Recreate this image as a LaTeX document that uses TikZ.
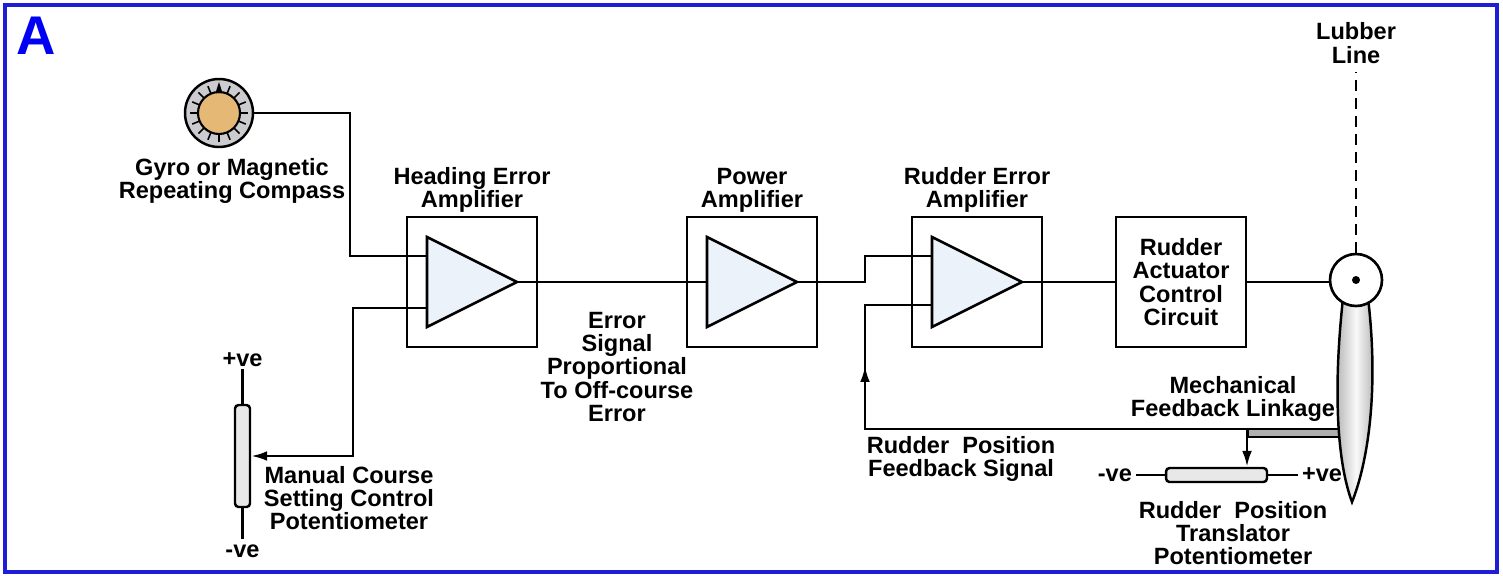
\documentclass[tikz,border=0pt]{standalone}
\usepackage{fontspec}
\setmainfont{Liberation Sans}
\usetikzlibrary{arrows.meta,positioning,decorations.markings}

\definecolor{frameblue}{RGB}{30,30,215}
\definecolor{letterblue}{RGB}{0,0,245}
\definecolor{dialtan}{RGB}{229,184,118}
\definecolor{dialgray}{RGB}{204,204,208}
\definecolor{ampfill}{RGB}{236,242,250}
\definecolor{potfill}{RGB}{232,232,232}
\definecolor{linkgray}{RGB}{175,175,175}

\tikzset{
  wire/.style={line width=1.4pt},
  blockbox/.style={draw, line width=1.6pt, minimum width=2.6cm, minimum height=2.6cm, inner sep=0pt},
  amptri/.style={draw, line width=1.5pt, fill=ampfill},
  lbl/.style={font=\bfseries\fontsize{13.4}{13.2}\selectfont, align=center, inner sep=0pt},
  vetxt/.style={lbl, inner sep=1pt},
  potbox/.style={draw, line width=1.4pt, fill=potfill, rounded corners=2pt, inner sep=0pt},
  arrowend/.style={-{Latex[length=9pt,width=5.5pt]}},
}

\begin{document}
\begin{tikzpicture}[x=0.02cm, y=-0.02cm]
  \useasboundingbox (0,0) rectangle (1503,575);
  \draw[frameblue, line width=1.8pt] (5,5) rectangle (1497,572);
  \node[font=\bfseries\fontsize{31}{31}\selectfont, text=letterblue, inner sep=0pt] (panel) at (36,36) {A};

  % compass dial
  \node[circle, draw, line width=1.4pt, fill=dialgray, minimum size=1.36cm] (compass) at (219,113) {};
  \node[circle, draw, line width=1.2pt, fill=dialtan, minimum size=0.84cm] (dial) at (219,113) {};
  \begin{scope}[shift={(219,113)}]
    \foreach \a in {0,22.5,...,337.5}{
      \ifdim\a pt=270pt\else
        \draw[line width=0.9pt] (\a:21) -- (\a:29);
      \fi
    }
    \fill (-3.5,-20) -- (0,-31) -- (3.5,-20) -- cycle;
  \end{scope}

  % amplifier blocks
  \foreach \n/\cx in {hea/472, pow/752, rud/977}{
    \node[blockbox] (\n) at (\cx,282) {};
    \draw[amptri] (\cx-45,237) -- (\cx+45,282) -- (\cx-45,327) -- cycle;
    \coordinate (\n-out) at (\cx+45,282);
  }
  \coordinate (hea-in1) at (427,256);
  \coordinate (hea-in2) at (427,308);
  \coordinate (pow-in) at (707,282);
  \coordinate (rud-in1) at (932,256);
  \coordinate (rud-in2) at (932,305);

  \node[blockbox, lbl] (act) at (1181,282) {Rudder\\Actuator\\Control\\Circuit};

  % potentiometers
  \node[potbox, minimum width=0.3cm, minimum height=2.04cm] (manpot) at (242.5,456) {};
  \draw[wire] (manpot.north) -- ++(0,-35) coordinate (mantop);
  \draw[wire] (manpot.south) -- ++(0,31) coordinate (manbot);
  \node[vetxt, above=0pt of mantop] (manplus) {+ve};
  \node[vetxt, below=2pt of manbot] (manminus) {-ve};

  \node[potbox, minimum width=2.02cm, minimum height=0.28cm] (rpot) at (1216.5,475) {};
  \draw[wire] (rpot.west) -- ++(-29,0) coordinate (rpotl);
  \draw[wire] (rpot.east) -- ++(30,0) coordinate (rpotr);
  \node[vetxt, left=1pt of rpotl] (rminus) {-ve};
  \node[vetxt, right=1pt of rpotr] (rplus) {+ve};

  % rudder with linkage
  \draw[line width=1.2pt, fill=linkgray] (1248,429) rectangle (1341,437);
  \draw[line width=1.4pt, left color=gray!65, right color=gray!70, middle color=gray!5]
    (1343,298) .. controls (1333,390) and (1337,462) .. (1352,502)
    .. controls (1368,462) and (1379,390) .. (1368,298) -- cycle;
  \node[circle, draw, line width=1.5pt, fill=white, minimum size=1.04cm, inner sep=0pt] (helm) at (1356,280) {};
  \fill (helm) circle (0.08cm);
  \draw[wire, dash pattern=on 0.22cm off 0.14cm] (helm.north) -- ++(0,-181) coordinate (lubtop);

  % signal wiring
  \coordinate (cjog) at (350,256);
  \coordinate (pjog) at (353,308);
  \coordinate (rjog) at (865,256);
  \coordinate (fjog) at (865,429);
  \coordinate (fbk) at (1247,429);
  \draw[wire] (compass.east) -| (cjog) -- (hea-in1);
  \draw[wire, arrowend] (hea-in2) -- (pjog) |- (manpot.east);
  \draw[wire] (hea-out) -- (pow-in);
  \draw[wire] (pow-out) -| (rjog) -- (rud-in1);
  \draw[wire] (rud-out) -- (act);
  \draw[wire] (act.east) -- (act.east -| helm.west);
  \draw[wire, postaction={decorate}, decoration={markings,
      mark=at position 8.9cm with {\arrow{Latex[length=9pt,width=5.5pt]}}}]
    (fbk) -- (fjog) |- (rud-in2);
  \draw[wire, arrowend] (fbk) -- (fbk |- rpot.north);

  % labels
  \node[lbl] (gyrolbl) at (232,181) {Gyro or Magnetic\\Repeating Compass};
  \node[lbl] (healbl) at (472,190) {Heading Error\\Amplifier};
  \node[lbl] (powlbl) at (752,190) {Power\\Amplifier};
  \node[lbl] (rudlbl) at (977,190) {Rudder Error\\Amplifier};
  \node[lbl] (errlbl) at (617,367) {Error\\Signal\\Proportional\\To Off-course\\Error};
  \node[lbl] (manlbl) at (349,498) {Manual Course\\Setting Control\\Potentiometer};
  \node[lbl] (fbklbl) at (961,459) {Rudder\ \ Position\\Feedback Signal};
  \node[lbl] (mechlbl) at (1233,399) {Mechanical\\Feedback Linkage};
  \node[lbl] (rposlbl) at (1233,533) {Rudder\ \ Position\\Translator\\Potentiometer};
  \node[lbl] (lubblbl) at (1356,43) {Lubber\\Line};
\end{tikzpicture}
\end{document}
